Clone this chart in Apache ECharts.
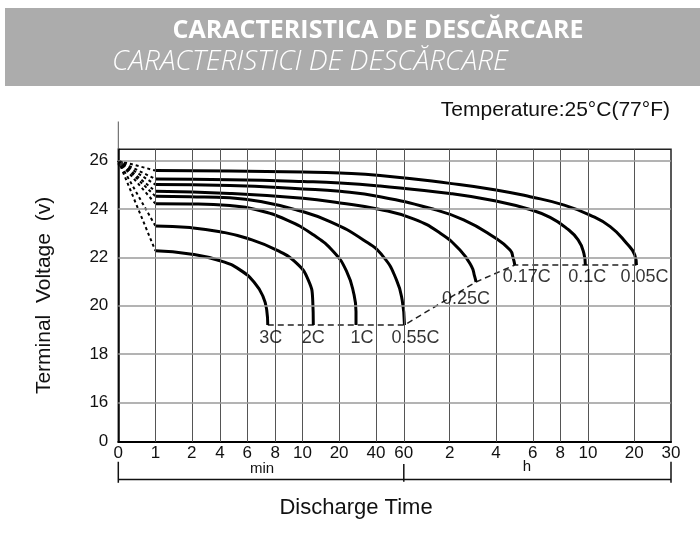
<!DOCTYPE html>
<html>
<head>
<meta charset="utf-8">
<script src="https://cdn.jsdelivr.net/npm/echarts@6/dist/echarts.min.js"></script>
<style>
  html, body { margin: 0; padding: 0; background: #fff; }
  #chart { width: 700px; height: 535px; }
</style>
</head>
<body>
<div id="chart"></div>
<script>
// printed time scale of the sheet: label, value in minutes, place on the (uneven) axis
var xTickLabels = ['0', '1', '2', '4', '6', '8', '10', '20', '40', '60', '2', '4', '6', '8', '10', '20', '30'];
var xTickMinutes = [0, 1, 2, 4, 6, 8, 10, 20, 40, 60, 120, 240, 360, 480, 600, 1200, 1800];
var xTickPos = [0, 37.1, 73.5, 101.8, 129, 156.9, 184.1, 220.8, 257.6, 285.5, 331.4, 377.7, 414.5, 442, 469.6, 515.9, 552.7];

// voltage axis (broken: the bottom line is printed as 0)
var yTickValues = [16, 18, 20, 22, 24, 26];
var yBottom = 14.37;
var yTop = 26.47;

// discharge curves, [minutes, volts]
var rateNames = ['3C', '2C', '1C', '0.55C', '0.25C', '0.17C', '0.1C', '0.05C'];
var curve3C = [[1, 22.27], [1.93, 22.14], [4, 21.86], [5.38, 21.48], [6.49, 20.93], [7.06, 20.37], [7.33, 19.82], [7.41, 19.2]];
var curve2C = [[1, 23.3], [1.93, 23.23], [4, 23.06], [5.97, 22.79], [8.1, 22.3], [9.55, 21.75], [11.18, 21.06], [12.15, 20.23], [12.29, 19.2]];
var curve1C = [[1, 24.22], [1.93, 24.21], [4.63, 24.14], [6.61, 23.97], [8.78, 23.55], [12.29, 22.93], [17.93, 22.24], [23.08, 21.41], [26.5, 20.45], [27.5, 19.76], [27.5, 19.2]];
var curve055C = [[1, 24.53], [1.93, 24.51], [4.63, 24.46], [7.06, 24.29], [9.55, 23.96], [16.84, 23.48], [31.6, 22.72], [44.5, 22.03], [54, 21.06], [58.6, 20.23], [60.6, 19.2]];
var curve025C = [[1, 24.73], [4.63, 24.64], [10.1, 24.44], [20.34, 24.25], [42.5, 23.98], [69.4, 23.59], [103.5, 23.01], [140, 22.3], [166.8, 21.61], [174, 21.23], [178, 20.98]];
var curve017C = [[1, 25.01], [4.63, 24.97], [10.1, 24.83], [20.34, 24.73], [42.5, 24.51], [89.1, 24.03], [147.8, 23.55], [230.9, 22.85], [280.3, 22.3], [289.9, 21.97], [295.3, 21.68]];
var curve01C = [[1, 25.24], [4.63, 25.21], [10.1, 25.14], [20.34, 25.08], [42.5, 24.95], [120.4, 24.64], [240, 24.33], [349.4, 23.98], [431.5, 23.65], [505.4, 23.2], [554.4, 22.72], [580.6, 22.17], [587.8, 21.68]];
var curve005C = [[1, 25.59], [4.63, 25.57], [10.1, 25.53], [20.34, 25.49], [42.5, 25.39], [120.4, 25.06], [240, 24.79], [349.4, 24.51], [492, 24.17], [619, 23.75], [837.8, 23.27], [1071, 22.58], [1208, 22.1], [1230, 21.68]];
var curves = [curve3C, curve2C, curve1C, curve055C, curve025C, curve017C, curve01C, curve005C];

var fullChargeVoltage = 26;
var fullChargePoint = [0.06, 25.87];

// minutes -> place on the printed axis (log steps between printed ticks)
function timeToPos(t) {
  for (var i = 1; i < xTickMinutes.length; i++) {
    if (t <= xTickMinutes[i]) {
      var t0 = xTickMinutes[i - 1], t1 = xTickMinutes[i];
      var f = t0 === 0 ? t / t1 : Math.log(t / t0) / Math.log(t1 / t0);
      return xTickPos[i - 1] + f * (xTickPos[i] - xTickPos[i - 1]);
    }
  }
  return xTickPos[xTickPos.length - 1];
}
function toAxis(p) { return [timeToPos(p[0]), p[1]]; }

var chart = echarts.init(document.getElementById('chart'));
var FONT = 'Liberation Sans, Arial, sans-serif';

var series = [];

// grid lines
series.push({
  type: 'line', data: [], z: 1, silent: true,
  markLine: {
    silent: true, symbol: 'none', label: { show: false }, animation: false,
    data: xTickPos.slice(1, -1).map(function (p) {
      return { xAxis: p, lineStyle: { color: '#555', width: 1, type: 'solid' } };
    }).concat(yTickValues.map(function (v) {
      return { yAxis: v, lineStyle: { color: '#9a9a9a', width: 1.5, type: 'solid' } };
    }))
  }
});

// dashed lead-ins from the full charge point
curves.forEach(function (c) {
  series.push({
    type: 'line', z: 3, symbol: 'none', silent: true,
    data: [[0, fullChargeVoltage], c[0]].map(toAxis),
    lineStyle: { color: '#000', width: 2, type: [3, 3] }
  });
});

// the curves
curves.forEach(function (c, i) {
  series.push({
    name: rateNames[i], type: 'line', z: 4, symbol: 'none', smooth: 0.5,
    data: c.map(toAxis),
    lineStyle: { color: '#000', width: 3 }
  });
});

// end-of-discharge dashed line
series.push({
  type: 'line', z: 3, symbol: 'none', silent: true,
  data: curves.map(function (c) { return toAxis(c[c.length - 1]); }),
  lineStyle: { color: '#222', width: 1.5, type: [6, 4] }
});

// rate labels at each curve end
var labelOffsets = [[3, 13], [0, 13], [6, 13], [11, 13], [-10, 17], [12, 12], [2, 12], [8, 12]];
series.push({
  type: 'scatter', z: 5, silent: true, symbolSize: 0,
  itemStyle: { color: '#000' },
  data: curves.map(function (c, i) {
    return {
      value: toAxis(c[c.length - 1]),
      label: {
        show: true, position: 'inside', offset: labelOffsets[i],
        formatter: rateNames[i], color: '#000', textBorderWidth: 0, fontSize: 18, fontFamily: FONT
      }
    };
  })
});

// full charge dot
series.push({
  type: 'scatter', z: 6, silent: true, symbolSize: 6,
  itemStyle: { color: '#000' },
  data: [toAxis(fullChargePoint)]
});

// axis stub above the frame and the min / h bracket below the axis
var stubs = [
  [[0, yTop], [0, 27.62]],
  [[0, 12.81], [1800, 12.81]],
  [[0, 13.54], [0, 12.67]],
  [[60, 13.45], [60, 12.71]],
  [[1800, 13.54], [1800, 12.67]]
];
stubs.forEach(function (s, i) {
  series.push({
    type: 'line', z: 3, symbol: 'none', silent: true, clip: false,
    data: s.map(toAxis),
    lineStyle: { color: i === 0 ? '#555' : '#111', width: i === 0 ? 1 : 1.5 }
  });
});

var option = {
  animation: false,
  grid: {
    left: 118.3, right: 29, top: 149.3, bottom: 93.3,
    show: true, borderColor: '#222', borderWidth: 1.5, backgroundColor: 'transparent'
  },
  xAxis: {
    type: 'value', min: 0, max: xTickPos[xTickPos.length - 1],
    axisLine: { show: true, lineStyle: { color: '#000', width: 2 } },
    axisTick: { show: false },
    splitLine: { show: false },
    axisLabel: {
      customValues: xTickPos, margin: 3, fontSize: 17, color: '#111', fontFamily: FONT,
      formatter: function (v) {
        var best = 0;
        for (var i = 0; i < xTickPos.length; i++) {
          if (Math.abs(xTickPos[i] - v) < Math.abs(xTickPos[best] - v)) best = i;
        }
        return xTickLabels[best];
      }
    }
  },
  yAxis: {
    type: 'value', min: yBottom, max: yTop,
    axisLine: { show: true, lineStyle: { color: '#000', width: 1.5 } },
    axisTick: { show: false },
    splitLine: { show: false },
    axisLabel: {
      customValues: [yBottom].concat(yTickValues), margin: 10, fontSize: 17, color: '#111', fontFamily: FONT,
      formatter: function (v) { return v < 15 ? '0' : String(v); }
    },
    name: 'Terminal  Voltage  (v)', nameLocation: 'middle', nameRotate: 90, nameGap: 64,
    nameTextStyle: { fontSize: 21, color: '#111', fontFamily: FONT }
  },
  graphic: [
    { type: 'rect', left: 5, top: 8, z: -1, shape: { width: 695, height: 78 }, style: { fill: '#acacac' } },
    { type: 'text', x: 378, y: 31, style: { text: 'CARACTERISTICA DE DESCĂRCARE', fill: '#fff', font: 'bold 25px "Open Sans", sans-serif', textAlign: 'center', textVerticalAlign: 'middle' } },
    { type: 'text', x: 112, y: 62, style: { text: 'CARACTERISTICI DE DESCĂRCARE', fill: '#fff', font: 'italic 300 28px "Open Sans", sans-serif', textAlign: 'left', textVerticalAlign: 'middle' } },
    { type: 'text', x: 670, y: 110, style: { text: 'Temperature:25°C(77°F)', fill: '#111', font: '21px "Liberation Sans", Arial, sans-serif', textAlign: 'right', textVerticalAlign: 'middle' } },
    { type: 'text', x: 262, y: 469, style: { text: 'min', fill: '#111', font: '15px "Liberation Sans", Arial, sans-serif', textAlign: 'center', textVerticalAlign: 'middle' } },
    { type: 'text', x: 527, y: 467, style: { text: 'h', fill: '#111', font: '15px "Liberation Sans", Arial, sans-serif', textAlign: 'center', textVerticalAlign: 'middle' } },
    { type: 'text', x: 356, y: 508, style: { text: 'Discharge Time', fill: '#111', font: '22px "Liberation Sans", Arial, sans-serif', textAlign: 'center', textVerticalAlign: 'middle' } }
  ],
  series: series
};

chart.setOption(option);
</script>
</body>
</html>
